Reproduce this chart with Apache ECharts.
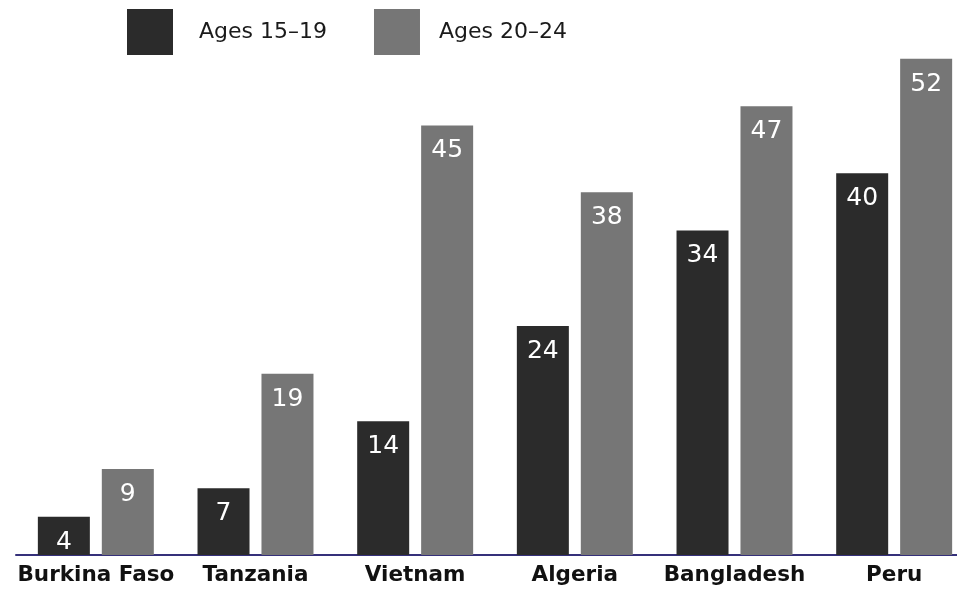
<!DOCTYPE html>
<html><head><meta charset="utf-8">
<script src="https://cdn.jsdelivr.net/npm/echarts@6/dist/echarts.min.js"></script>
<style>html,body{margin:0;padding:0;background:#fff}#c{width:957px;height:590px}</style>
</head><body><div id="c"></div>
<script>
var categories = ['Burkina Faso', 'Tanzania', 'Vietnam', 'Algeria', 'Bangladesh', 'Peru'];
var ages1519 = [4, 7, 14, 24, 34, 40];
var ages2024 = [9, 19, 45, 38, 47, 52];
var seriesNames = ['Ages 15\u201319', 'Ages 20\u201324'];

var chart = echarts.init(document.getElementById('c'));
var labelStyle = {show: true, position: 'insideTop', distance: 13, color: '#fff', fontSize: 25, fontFamily: 'DejaVu Sans'};
chart.setOption({
  animation: false,
  legend: {
    left: 127, top: 9, padding: 0, itemWidth: 46, itemHeight: 46, itemGap: 47, icon: 'rect',
    data: [
      {name: seriesNames[0], textStyle: {padding: [0, 0, 0, 21]}},
      {name: seriesNames[1], textStyle: {padding: [0, 0, 0, 14]}}
    ],
    textStyle: {fontSize: 22, fontFamily: 'DejaVu Sans', color: '#1a1a1a'}
  },
  grid: {left: 16, width: 958, top: 30, height: 525, containLabel: false, outerBoundsMode: 'none'},
  xAxis: {
    type: 'category', data: categories,
    axisLine: {lineStyle: {color: '#35307a', width: 2}},
    axisTick: {show: false},
    axisLabel: {interval: 0, color: '#111', fontSize: 21.5, fontWeight: 'bold', fontFamily: 'DejaVu Sans', margin: 9}
  },
  yAxis: {type: 'value', min: 0, max: 55, show: false, splitLine: {show: false}},
  series: [
    {name: seriesNames[0], type: 'bar', data: ages1519, barWidth: 52, barGap: '23%', itemStyle: {color: '#2b2b2b'}, label: labelStyle},
    {name: seriesNames[1], type: 'bar', data: ages2024, barWidth: 52, itemStyle: {color: '#767676'}, label: labelStyle}
  ]
});
</script></body></html>
